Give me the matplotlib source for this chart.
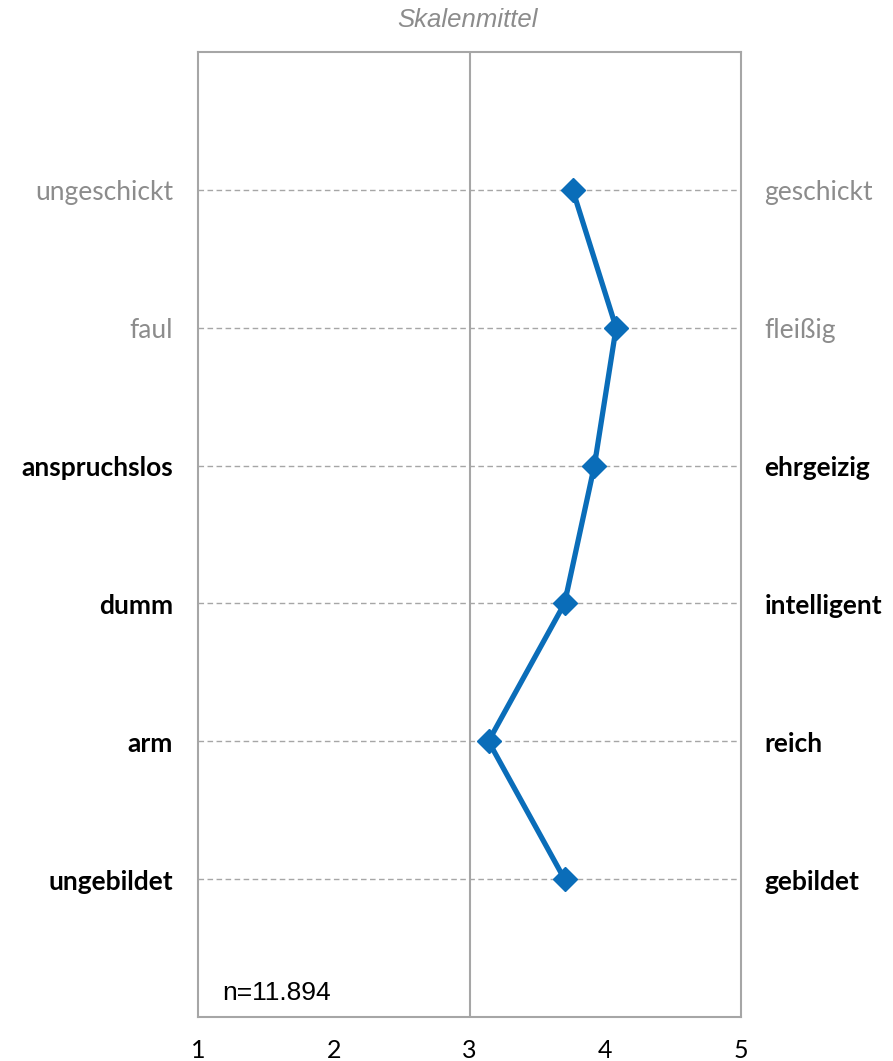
import matplotlib
matplotlib.use("Agg")
import matplotlib.pyplot as plt

left_labels = ["ungeschickt", "faul", "anspruchslos", "dumm", "arm", "ungebildet"]
right_labels = ["geschickt", "fleißig", "ehrgeizig", "intelligent", "reich", "gebildet"]
label_bold = [False, False, True, True, True, True]
values = [3.76, 4.08, 3.92, 3.70, 3.14, 3.70]
x_ticks = [1, 2, 3, 4, 5]
title = "Skalenmittel"
note = "n=11.894"

W, H = 893, 1061
fig = plt.figure(figsize=(W / 100, H / 100), dpi=100)
ax = fig.add_axes([198 / W, 1 - 1017 / H, (741 - 198) / W, (1017 - 52) / H])

rows = list(range(1, len(values) + 1))
ax.set_xlim(1, 5)
ax.set_ylim(len(values) + 1, 0)

grey = "#A6A6A6"
for r in rows:
    ax.axhline(r, color=grey, lw=1.0, ls=(0, (4, 2.5)), zorder=1)
ax.axvline(3, color=grey, lw=1.5, zorder=1)

ax.plot(values, rows, color="#0A6DB9", lw=3.8, marker="D", ms=12.5,
        solid_joinstyle="round", zorder=3)

for s in ax.spines.values():
    s.set_color(grey)
    s.set_linewidth(1.5)

ax.set_yticks([])
ax.set_xticks(x_ticks)
ax.set_xticklabels([str(t) for t in x_ticks], family="Lato", fontsize=18, color="black")
ax.tick_params(axis="x", length=0, pad=16)

for r, l, rl, b in zip(rows, left_labels, right_labels, label_bold):
    kw = dict(family="Lato", fontsize=19, va="center",
              fontweight="bold" if b else "normal",
              color="black" if b else "#8C8C8C")
    ax.annotate(l, xy=(0, r), xycoords=("axes fraction", "data"),
                xytext=(-18, -2), textcoords="offset points", ha="right", **kw)
    ax.annotate(rl, xy=(1, r), xycoords=("axes fraction", "data"),
                xytext=(17, -2), textcoords="offset points", ha="left", **kw)

fig.text(468 / W, 1 - 20 / H, title, ha="center", va="center",
         family="Liberation Sans", style="italic", fontsize=18.5, color="#8C8C8C")
fig.text(222 / W, 1 - 993 / H, note, ha="left", va="center",
         family="Liberation Sans", fontsize=19, color="black")

fig.savefig("out.png", dpi=100)
